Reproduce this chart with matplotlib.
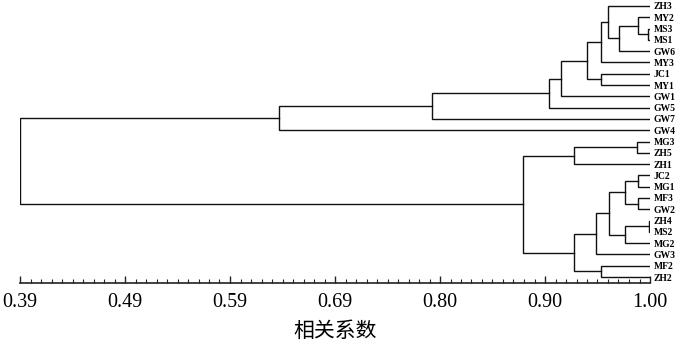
import numpy as np
from matplotlib import pyplot as plt
from matplotlib.ticker import FixedLocator

# leaf order from top to bottom
leaves = ["ZH3", "MY2", "MS3", "MS1", "GW6", "MY3", "JC1", "MY1", "GW1", "GW5",
          "GW7", "GW4", "MG3", "ZH5", "ZH1", "JC2", "MG1", "MF3", "GW2", "ZH4",
          "MS2", "MG2", "GW3", "MF2", "ZH2"]

# merges like a linkage: node ids 0..24 are leaves, new nodes get 25, 26, ...
merge_a = [2, 1, 26, 0, 28, 6, 29, 31, 32, 33, 34,
           12, 36, 15, 17, 38, 19, 41, 40, 43, 23, 44, 37, 35]
merge_b = [3, 25, 4, 27, 5, 7, 30, 8, 9, 10, 11,
           13, 14, 16, 18, 39, 20, 21, 42, 22, 24, 45, 46, 47]
merge_h = [0.998, 0.988, 0.970, 0.959, 0.953, 0.953, 0.939, 0.914, 0.902, 0.789, 0.641,
           0.987, 0.926, 0.988, 0.988, 0.976, 0.999, 0.976, 0.960, 0.948, 0.953, 0.926, 0.877, 0.39]

tick_vals = np.linspace(0.39, 1.00, 7)
tick_labels = ["0.39", "0.49", "0.59", "0.69", "0.80", "0.90", "1.00"]

fig = plt.figure(figsize=(6.77, 3.49), dpi=100)
ax = fig.add_axes([20 / 677, 1 - 283 / 349, 630 / 677, 283 / 349])

pos = {i: float(i) for i in range(len(leaves))}
height = {i: 1.0 for i in range(len(leaves))}
lc = "#111111"
for k, (a, b, h) in enumerate(zip(merge_a, merge_b, merge_h)):
    node = len(leaves) + k
    ax.plot([height[a], h, h, height[b]], [pos[a], pos[a], pos[b], pos[b]],
            color=lc, lw=1.0, solid_joinstyle="miter")
    pos[node] = (pos[a] + pos[b]) / 2
    height[node] = h

ax.set_xlim(0.39, 1.00)
ax.set_ylim(24.53, -0.53)

for s in ["top", "left", "right"]:
    ax.spines[s].set_visible(False)
ax.spines["bottom"].set_linewidth(1.2)
ax.spines["bottom"].set_color("#222222")

ax.set_xticks(tick_vals)
ax.set_xticklabels(tick_labels, family="Liberation Serif", fontsize=14.5)
ax.xaxis.set_minor_locator(FixedLocator(np.linspace(0.39, 1.00, 61)))
ax.tick_params(axis="x", which="major", direction="in", length=5, width=1.0, pad=7, color="#222222")
ax.tick_params(axis="x", which="minor", direction="in", length=3, width=0.8, color="#222222")

ax.yaxis.tick_right()
ax.set_yticks(range(len(leaves)))
ax.set_yticklabels(leaves, family="Liberation Serif", fontweight="bold", fontsize=6.9)
ax.tick_params(axis="y", length=0, pad=2.5)

ax.set_xlabel("相关系数", family=["Noto Sans CJK SC", "DejaVu Sans"], fontsize=15, labelpad=6)

plt.savefig("out.png", dpi=100)
